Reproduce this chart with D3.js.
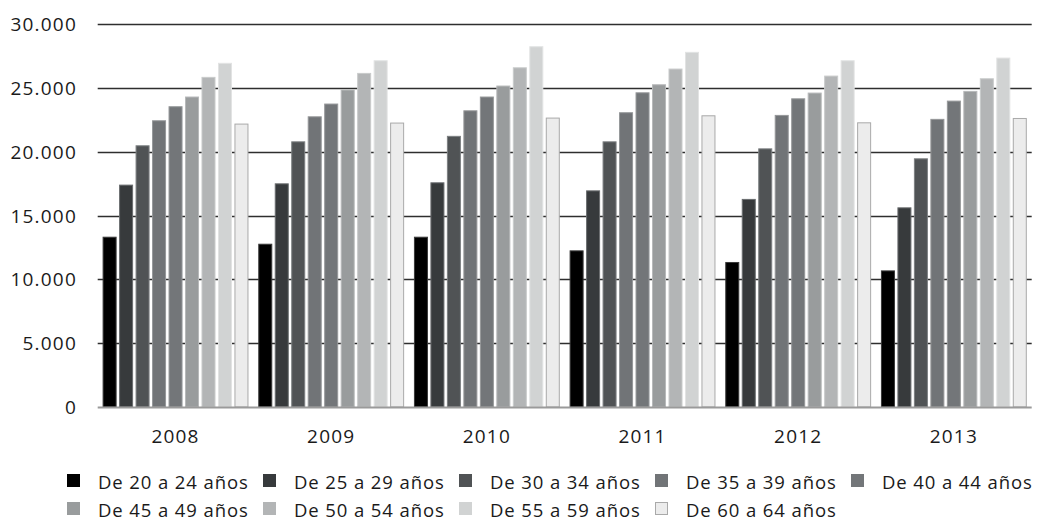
<!DOCTYPE html>
<html>
<head>
<meta charset="utf-8">
<script src="https://cdn.jsdelivr.net/npm/d3@7"></script>
<style>
  html, body { margin: 0; padding: 0; background: #fff; }
  svg text { font-family: "Open Sans", "Noto Sans", sans-serif; fill: #1a1a1a; }
</style>
</head>
<body>
<svg id="chart" width="1037" height="520"></svg>
<script>
// Years on the category axis
const years = ["2008", "2009", "2010", "2011", "2012", "2013"];

// Age groups (series) and their values per year
const ageGroups = [
  "De 20 a 24 años", "De 25 a 29 años", "De 30 a 34 años",
  "De 35 a 39 años", "De 40 a 44 años", "De 45 a 49 años",
  "De 50 a 54 años", "De 55 a 59 años", "De 60 a 64 años"
];
const de20a24 = [13300, 12750, 13300, 12230, 11320, 10660];
const de25a29 = [17380, 17480, 17560, 16930, 16260, 15600];
const de30a34 = [20460, 20770, 21200, 20770, 20220, 19440];
const de35a39 = [22420, 22730, 23200, 23050, 22840, 22530];
const de40a44 = [23520, 23730, 24280, 24610, 24140, 23960];
const de45a49 = [24280, 24830, 25140, 25240, 24590, 24720];
const de50a54 = [25820, 26130, 26570, 26470, 25920, 25710];
const de55a59 = [26920, 27120, 28220, 27780, 27120, 27330];
const de60a64 = [22160, 22240, 22630, 22810, 22260, 22600];
const seriesValues = [de20a24, de25a29, de30a34, de35a39, de40a44,
                      de45a49, de50a54, de55a59, de60a64];

// Y axis ticks
const yTicks = [0, 5000, 10000, 15000, 20000, 25000, 30000];
const yTickLabels = ["0", "5.000", "10.000", "15.000", "20.000", "25.000", "30.000"];

// Grey ramp for the series
const fills = ["#000000", "#373a3c", "#505355", "#717477", "#737679",
               "#999c9d", "#b3b5b6", "#d1d3d3", "#ececec"];
const strokes = ["#3a3a3a", "#6a6d6f", "#7d8082", "#959799", "#96989a",
                 "#b7b9ba", "#c9cbcb", "#e2e3e3", "#a9a9a9"];

const svg = d3.select("#chart");
const plotLeft = 97.7, plotRight = 1031.7, plotTop = 24, plotBottom = 407;

const y = d3.scaleLinear().domain([0, 30000]).range([plotBottom, plotTop]);
const x0 = d3.scaleBand().domain(years).range([plotLeft, plotRight])
  .paddingInner(0.063).paddingOuter(0.0315);
const x1 = d3.scaleBand().domain(ageGroups).range([0, x0.bandwidth()])
  .paddingInner(0.15);

// Horizontal gridlines (drawn beneath the bars)
svg.append("g")
  .selectAll("line")
  .data(yTicks.filter(t => t > 0))
  .join("line")
  .attr("x1", plotLeft).attr("x2", plotRight)
  .attr("y1", d => Math.round(y(d)) + 0.5).attr("y2", d => Math.round(y(d)) + 0.5)
  .attr("stroke", "#2e2e2e").attr("stroke-width", 1.4);

// Y tick labels
svg.append("g")
  .selectAll("text")
  .data(yTicks)
  .join("text")
  .attr("x", 77).attr("y", d => y(d))
  .attr("text-anchor", "end").attr("dominant-baseline", "central")
  .style("font-size", "19px").style("letter-spacing", "1.2px")
  .text((d, i) => yTickLabels[i]);

// Bars grouped by year
const groups = svg.append("g")
  .selectAll("g")
  .data(years)
  .join("g")
  .attr("transform", d => `translate(${x0(d)},0)`);

groups.selectAll("rect")
  .data((yr, yi) => ageGroups.map((g, si) => ({ g, si, v: seriesValues[si][yi] })))
  .join("rect")
  .attr("x", d => x1(d.g) + 0.5)
  .attr("width", x1.bandwidth() - 1)
  .attr("y", d => y(d.v))
  .attr("height", d => plotBottom - y(d.v))
  .attr("fill", d => fills[d.si])
  .attr("stroke", d => strokes[d.si])
  .attr("stroke-width", 1);

// Baseline
svg.append("line")
  .attr("x1", plotLeft).attr("x2", plotRight)
  .attr("y1", plotBottom + 0.5).attr("y2", plotBottom + 0.5)
  .attr("stroke", "#9a9a9a").attr("stroke-width", 2);

// Year labels
svg.append("g")
  .selectAll("text")
  .data(years)
  .join("text")
  .attr("x", d => x0(d) + x0.bandwidth() / 2)
  .attr("y", 436)
  .attr("text-anchor", "middle").attr("dominant-baseline", "central")
  .style("font-size", "19px").style("letter-spacing", "1.2px")
  .text(d => d);

// Legend: two rows, five evenly spaced columns
const legendX0 = 67, legendStep = 196;
const legendRows = [481, 509];
const legend = svg.append("g")
  .selectAll("g")
  .data(ageGroups)
  .join("g")
  .attr("transform", (d, i) => `translate(${legendX0 + (i % 5) * legendStep},${legendRows[Math.floor(i / 5)]})`);

legend.append("rect")
  .attr("x", 0.5).attr("y", -6.5)
  .attr("width", 12).attr("height", 12)
  .attr("fill", (d, i) => fills[i])
  .attr("stroke", (d, i) => i === 8 ? "#a9a9a9" : fills[i])
  .attr("stroke-width", 1);

legend.append("text")
  .attr("x", 31).attr("y", 0)
  .attr("dominant-baseline", "central")
  .style("font-size", "18.5px").style("letter-spacing", "0.9px")
  .text(d => d);
</script>
</body>
</html>
